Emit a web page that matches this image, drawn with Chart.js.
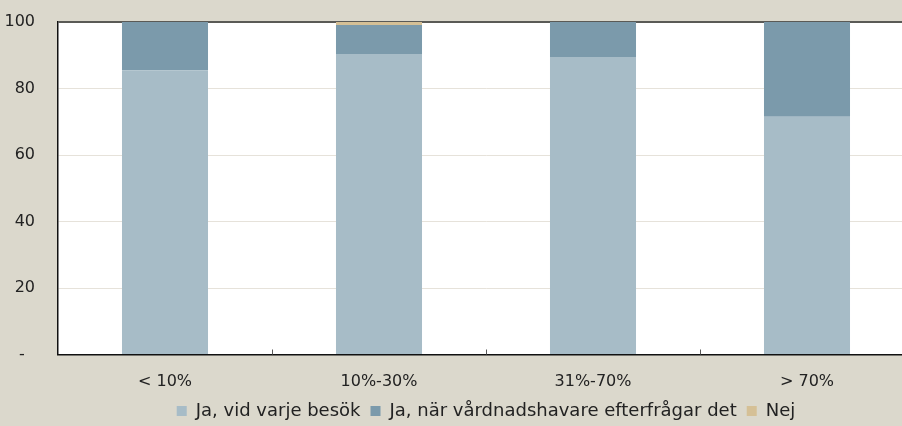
<!DOCTYPE html>
<html>
<head>
<meta charset="utf-8">
<script src="https://cdn.jsdelivr.net/npm/chart.js@4/dist/chart.umd.min.js"></script>
<style>
  html, body { margin: 0; padding: 0; background: #dbd8cc; overflow: hidden; }
  #wrap { position: relative; width: 914px; height: 430px; }
</style>
</head>
<body>
<div id="wrap"><canvas id="c"></canvas></div>
<script>
// Andel per kategori (procent)
const categories = ['< 10%', '10%-30%', '31%-70%', '> 70%'];
const jaVidVarjeBesok = [85.5, 90.4, 89.5, 71.5];
const jaNarEfterfragar = [14.5, 8.7, 10.5, 28.5];
const nej = [0, 0.9, 0, 0];
const seriesNames = ['Ja, vid varje besök', 'Ja, när vårdnadshavare efterfrågar det', 'Nej'];
const yTicks = [0, 20, 40, 60, 80, 100];

const FONT = "'DejaVu Sans', sans-serif";

// White plot area behind grid and bars
const plotBackground = {
  id: 'plotBackground',
  beforeDraw(chart) {
    const a = chart.chartArea, ctx = chart.ctx;
    ctx.save();
    ctx.fillStyle = '#ffffff';
    ctx.fillRect(a.left, a.top, a.right - a.left, a.bottom - a.top);
    ctx.restore();
  }
};

// Small inward tick marks between categories on the x axis
const categoryTicks = {
  id: 'categoryTicks',
  afterDatasetsDraw(chart) {
    const x = chart.scales.x, area = chart.chartArea, ctx = chart.ctx;
    ctx.save();
    ctx.strokeStyle = '#595959';
    ctx.lineWidth = 1;
    for (let i = 1; i < categories.length; i++) {
      const px = Math.round((x.getPixelForValue(i - 1) + x.getPixelForValue(i)) / 2) + 0.5;
      ctx.beginPath();
      ctx.moveTo(px, area.bottom - 5);
      ctx.lineTo(px, area.bottom);
      ctx.stroke();
    }
    ctx.restore();
  }
};

new Chart(document.getElementById('c'), {
  type: 'bar',
  data: {
    labels: categories,
    datasets: [
      { label: seriesNames[0], data: jaVidVarjeBesok, backgroundColor: '#a7bcc7' },
      { label: seriesNames[1], data: jaNarEfterfragar, backgroundColor: '#7b9aab' },
      { label: seriesNames[2], data: nej, backgroundColor: '#d5c096' }
    ]
  },
  options: {
    responsive: true,
    maintainAspectRatio: false,
    animation: false,
    layout: { padding: { top: 22, right: 0, bottom: 0, left: 0 } },
    datasets: { bar: { categoryPercentage: 1, barPercentage: 0.402, borderWidth: 0 } },
    scales: {
      x: {
        stacked: true,
        afterFit(scale) { scale.height = 37.5; scale.paddingLeft = 0; scale.paddingRight = 0; },
        grid: { display: false, drawTicks: false },
        border: { display: true, color: '#111', width: 1.5 },
        ticks: { color: '#222', padding: 18, font: { family: FONT, size: 16 } }
      },
      y: {
        stacked: true,
        min: 0, max: 100,
        afterBuildTicks(scale) { scale.ticks = yTicks.map(v => ({ value: v })); },
        afterFit(scale) { scale.width = 58; scale.paddingTop = 0; scale.paddingBottom = 0; },
        grid: {
          drawTicks: false,
          color: c => c.tick && c.tick.value === 100 ? '#5a5a56' : (c.tick && c.tick.value === 0 ? 'rgba(0,0,0,0)' : '#e6e2da'),
          lineWidth: c => c.tick && c.tick.value === 100 ? 2 : 1
        },
        border: { display: true, color: '#111', width: 1.5 },
        ticks: {
          color: '#222', padding: 23, font: { family: FONT, size: 16 },
          callback: v => v === 0 ? '-  ' : String(v)
        }
      }
    },
    plugins: {
      tooltip: { enabled: false },
      legend: {
        position: 'bottom',
        fullSize: false,
        labels: {
          color: '#222',
          font: { family: FONT, size: 18 },
          boxWidth: 10, boxHeight: 10,
          padding: 10
        }
      }
    }
  },
  plugins: [plotBackground, categoryTicks]
});
</script>
</body>
</html>
